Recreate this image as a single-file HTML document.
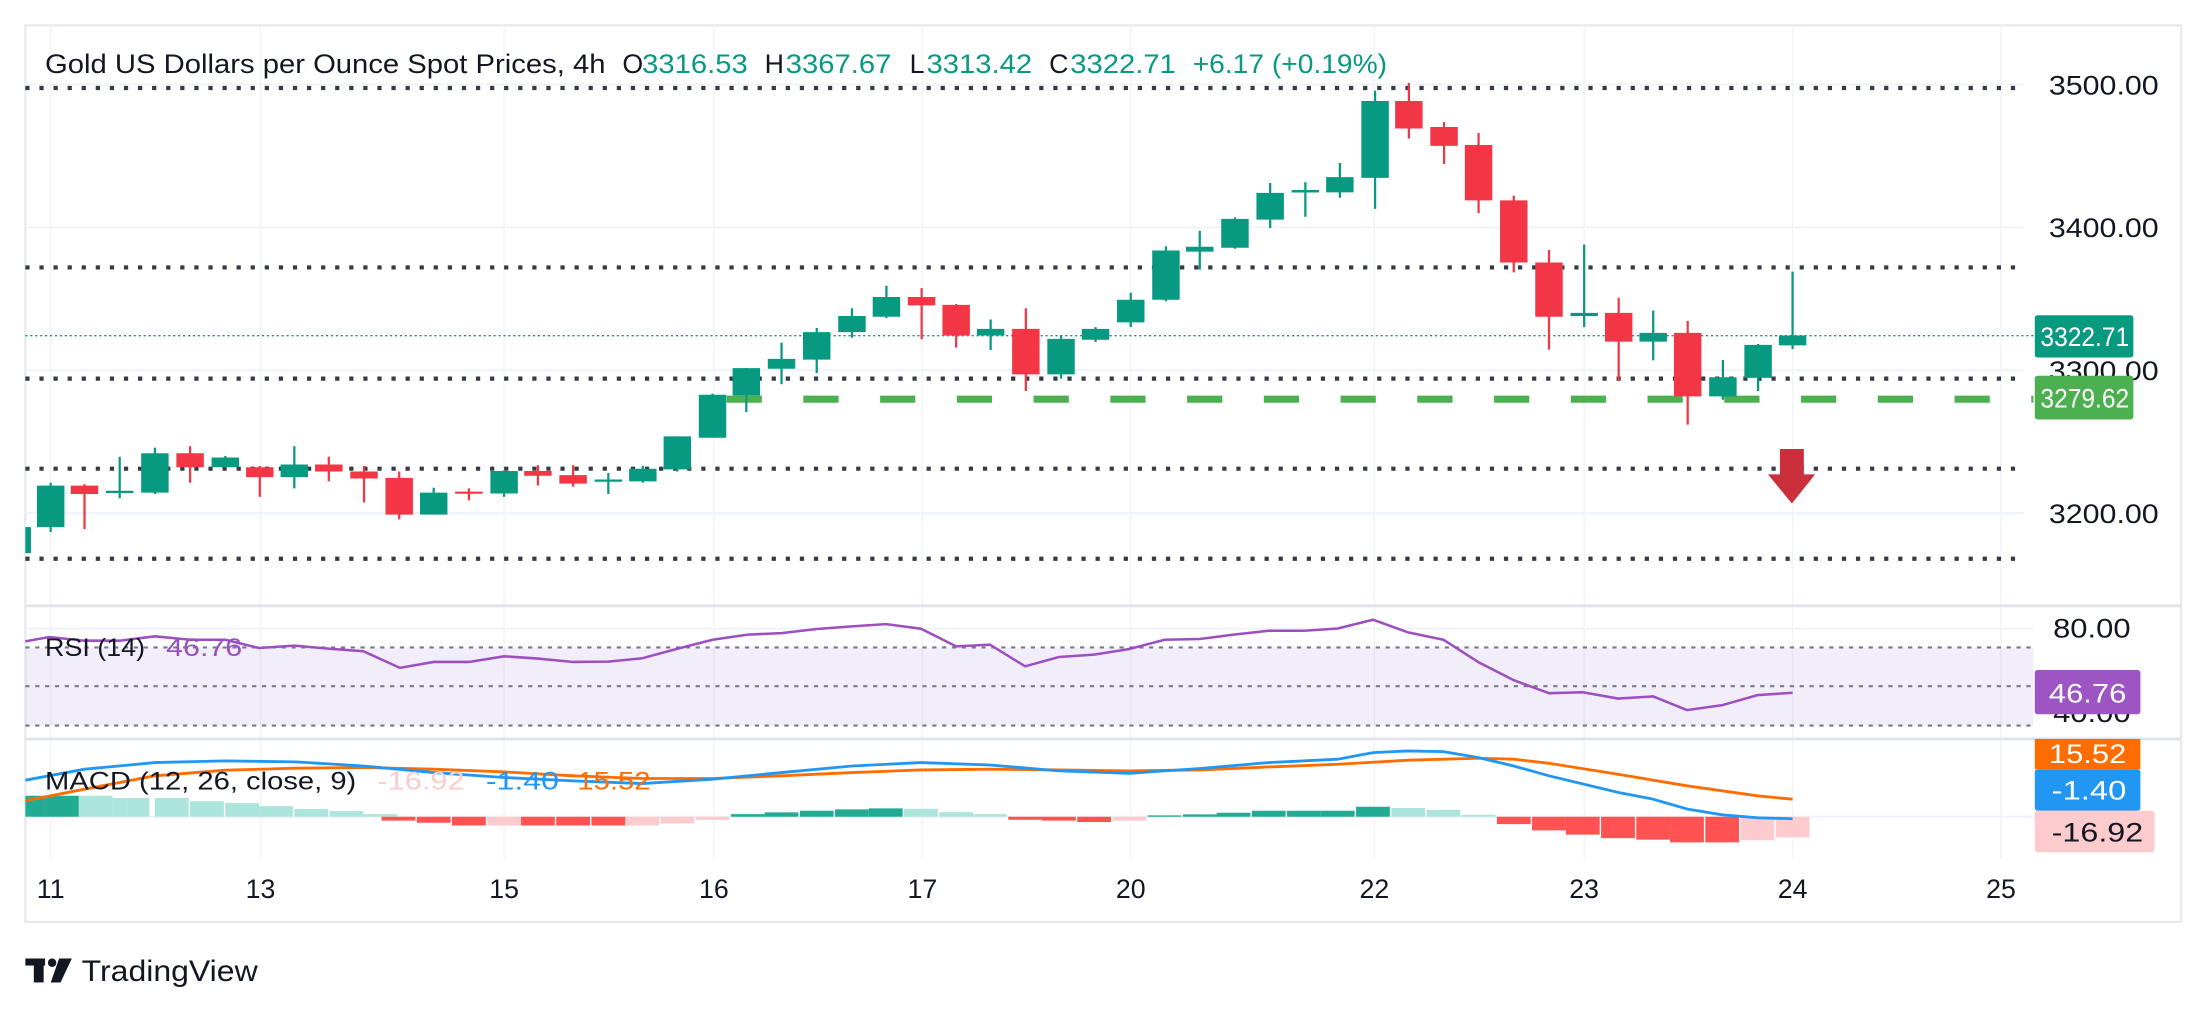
<!DOCTYPE html>
<html><head><meta charset="utf-8"><style>
html,body{margin:0;padding:0;background:#fff;}
svg{display:block;}
text{font-family:"Liberation Sans",sans-serif;}
</style></head><body>
<svg width="2208" height="1012" viewBox="0 0 1568 719" preserveAspectRatio="none" xmlns="http://www.w3.org/2000/svg">
<rect width="1568" height="719" fill="#fff"/>
<rect x="18" y="18" width="1531" height="637" fill="none" stroke="#e6e8f0" stroke-width="1.5"/>
<g stroke="#f0f3fa" stroke-width="1">
<line x1="36" y1="18" x2="36" y2="610"/><line x1="185" y1="18" x2="185" y2="610"/><line x1="358" y1="18" x2="358" y2="610"/><line x1="507" y1="18" x2="507" y2="610"/><line x1="655" y1="18" x2="655" y2="610"/><line x1="803" y1="18" x2="803" y2="610"/><line x1="976" y1="18" x2="976" y2="610"/><line x1="1125" y1="18" x2="1125" y2="610"/><line x1="1273" y1="18" x2="1273" y2="610"/><line x1="1421" y1="18" x2="1421" y2="610"/>
</g>
<g stroke="#f0f3fa" stroke-width="1.5">
<line x1="18" y1="60" x2="1437" y2="60"/><line x1="18" y1="161.5" x2="1437" y2="161.5"/><line x1="18" y1="263" x2="1437" y2="263"/><line x1="18" y1="364.5" x2="1437" y2="364.5"/>
<line x1="18" y1="446.7" x2="1444" y2="446.7"/><line x1="18" y1="580.3" x2="1444" y2="580.3"/>
</g>
<line x1="18" y1="430.4" x2="1549" y2="430.4" stroke="#e0e3eb" stroke-width="2"/>
<line x1="18" y1="525" x2="1549" y2="525" stroke="#e0e3eb" stroke-width="2"/>
<!-- title -->
<g font-size="19">
<text x="32" y="52" fill="#131722" textLength="398" lengthAdjust="spacingAndGlyphs">Gold US Dollars per Ounce Spot Prices, 4h</text>
<text x="442" y="52" fill="#131722">O</text><text x="456" y="52" fill="#089981" textLength="75" lengthAdjust="spacingAndGlyphs">3316.53</text>
<text x="543" y="52" fill="#131722">H</text><text x="558" y="52" fill="#089981" textLength="75" lengthAdjust="spacingAndGlyphs">3367.67</text>
<text x="646" y="52" fill="#131722">L</text><text x="658" y="52" fill="#089981" textLength="75" lengthAdjust="spacingAndGlyphs">3313.42</text>
<text x="745" y="52" fill="#131722">C</text><text x="760" y="52" fill="#089981" textLength="75" lengthAdjust="spacingAndGlyphs">3322.71</text>
<text x="847" y="52" fill="#089981" textLength="138" lengthAdjust="spacingAndGlyphs">+6.17 (+0.19%)</text>
</g>
<g stroke="#363a45" stroke-width="3" stroke-dasharray="3 7">
<line x1="18" y1="62.5" x2="1437" y2="62.5"/><line x1="18" y1="190" x2="1437" y2="190"/><line x1="18" y1="269" x2="1437" y2="269"/><line x1="18" y1="333" x2="1437" y2="333"/><line x1="18" y1="397" x2="1437" y2="397"/>
</g>
<line x1="18" y1="238.5" x2="1444" y2="238.5" stroke="#089981" stroke-width="1" stroke-dasharray="1.5 2"/>
<line x1="516" y1="283.6" x2="1444" y2="283.6" stroke="#4caf50" stroke-width="5" stroke-dasharray="25 29.5"/>
<g stroke-width="1.6">
<g stroke="#089981">
<line x1="20" y1="374.5" x2="20" y2="393"/>
<line x1="36" y1="343" x2="36" y2="378"/><line x1="85" y1="324.5" x2="85" y2="354"/><line x1="110" y1="318" x2="110" y2="351"/><line x1="160" y1="324" x2="160" y2="332"/><line x1="209" y1="317" x2="209" y2="347"/><line x1="308" y1="346.5" x2="308" y2="365.6"/><line x1="358" y1="334" x2="358" y2="353"/><line x1="432" y1="336" x2="432" y2="351"/><line x1="456.5" y1="331" x2="456.5" y2="343"/><line x1="481" y1="310" x2="481" y2="335"/><line x1="506" y1="279.7" x2="506" y2="311"/><line x1="530" y1="261.5" x2="530" y2="292.7"/><line x1="555" y1="243.5" x2="555" y2="273"/><line x1="580" y1="233" x2="580" y2="265"/><line x1="605" y1="219" x2="605" y2="240"/><line x1="629.5" y1="203" x2="629.5" y2="226"/><line x1="703.5" y1="227" x2="703.5" y2="248.7"/><line x1="753.5" y1="238" x2="753.5" y2="269"/><line x1="778" y1="232.4" x2="778" y2="243"/><line x1="803" y1="208" x2="803" y2="232.4"/><line x1="828" y1="175" x2="828" y2="214"/><line x1="852" y1="164" x2="852" y2="191.6"/><line x1="877" y1="154.4" x2="877" y2="176.7"/><line x1="902" y1="130" x2="902" y2="162"/><line x1="927" y1="129.4" x2="927" y2="154"/><line x1="951.5" y1="115.8" x2="951.5" y2="140.5"/><line x1="976.5" y1="64.4" x2="976.5" y2="148.4"/><line x1="1125" y1="173.7" x2="1125" y2="232.4"/><line x1="1174" y1="220.7" x2="1174" y2="256"/><line x1="1223.5" y1="255.8" x2="1223.5" y2="284"/><line x1="1248.5" y1="244.4" x2="1248.5" y2="277.8"/><line x1="1273" y1="193" x2="1273" y2="248"/>
</g>
<g stroke="#f23645">
<line x1="60" y1="344" x2="60" y2="376"/><line x1="135" y1="317" x2="135" y2="343"/><line x1="184.5" y1="331" x2="184.5" y2="353"/><line x1="233.5" y1="324.5" x2="233.5" y2="342"/><line x1="258.5" y1="331" x2="258.5" y2="357"/><line x1="283.5" y1="335" x2="283.5" y2="369"/><line x1="333" y1="347" x2="333" y2="355.5"/><line x1="382" y1="330.5" x2="382" y2="345"/><line x1="407" y1="330.5" x2="407" y2="345.7"/><line x1="654.5" y1="204.7" x2="654.5" y2="241"/><line x1="679" y1="216" x2="679" y2="247"/><line x1="728.5" y1="219" x2="728.5" y2="277.8"/><line x1="1000.5" y1="59" x2="1000.5" y2="98.4"/><line x1="1025.5" y1="86.7" x2="1025.5" y2="116.6"/><line x1="1050" y1="94.6" x2="1050" y2="151.4"/><line x1="1075" y1="139" x2="1075" y2="193.5"/><line x1="1100" y1="177.5" x2="1100" y2="248.4"/><line x1="1149.5" y1="211.5" x2="1149.5" y2="270.7"/><line x1="1198.5" y1="228" x2="1198.5" y2="301.7"/>
</g>
</g>
<g stroke-width="19.5">
<g stroke="#089981">
<line x1="20" y1="374.5" x2="20" y2="393" stroke-width="4"/>
<line x1="36" y1="345" x2="36" y2="374.5"/><line x1="85" y1="348.7" x2="85" y2="350.3"/><line x1="110" y1="322" x2="110" y2="350"/><line x1="160" y1="325" x2="160" y2="332"/><line x1="209" y1="330" x2="209" y2="339"/><line x1="308" y1="350" x2="308" y2="365.6"/><line x1="358" y1="334.6" x2="358" y2="350.6"/><line x1="432" y1="340.7" x2="432" y2="342.3"/><line x1="456.5" y1="333" x2="456.5" y2="342"/><line x1="481" y1="310" x2="481" y2="333.5"/><line x1="506" y1="280.5" x2="506" y2="311"/><line x1="530" y1="261.5" x2="530" y2="281"/><line x1="555" y1="255" x2="555" y2="262"/><line x1="580" y1="236" x2="580" y2="255.5"/><line x1="605" y1="224.5" x2="605" y2="236"/><line x1="629.5" y1="211" x2="629.5" y2="225"/><line x1="703.5" y1="233.7" x2="703.5" y2="238.4"/><line x1="753.5" y1="240.8" x2="753.5" y2="266"/><line x1="778" y1="233.7" x2="778" y2="241.4"/><line x1="803" y1="213" x2="803" y2="229"/><line x1="828" y1="178" x2="828" y2="213"/><line x1="852" y1="175.3" x2="852" y2="178.8"/><line x1="877" y1="155.5" x2="877" y2="176"/><line x1="902" y1="137" x2="902" y2="156"/><line x1="927" y1="135" x2="927" y2="136.8"/><line x1="951.5" y1="125.8" x2="951.5" y2="136.7"/><line x1="976.5" y1="71.8" x2="976.5" y2="126.4"/><line x1="1125" y1="222.3" x2="1125" y2="224.5"/><line x1="1174" y1="236.5" x2="1174" y2="242.7"/><line x1="1223.5" y1="268" x2="1223.5" y2="281.6"/><line x1="1248.5" y1="245" x2="1248.5" y2="268.5"/><line x1="1273" y1="238.4" x2="1273" y2="245.4"/>
</g>
<g stroke="#f23645">
<line x1="60" y1="345" x2="60" y2="351"/><line x1="135" y1="322" x2="135" y2="332"/><line x1="184.5" y1="332" x2="184.5" y2="339"/><line x1="233.5" y1="330" x2="233.5" y2="335"/><line x1="258.5" y1="335" x2="258.5" y2="340"/><line x1="283.5" y1="339.5" x2="283.5" y2="365.6"/><line x1="333" y1="349.3" x2="333" y2="350.8"/><line x1="382" y1="334.6" x2="382" y2="338"/><line x1="407" y1="337.6" x2="407" y2="343.6"/><line x1="654.5" y1="211" x2="654.5" y2="217"/><line x1="679" y1="216.6" x2="679" y2="238.4"/><line x1="728.5" y1="233.7" x2="728.5" y2="266"/><line x1="1000.5" y1="71.8" x2="1000.5" y2="91.3"/><line x1="1025.5" y1="90.2" x2="1025.5" y2="103.6"/><line x1="1050" y1="103" x2="1050" y2="142.4"/><line x1="1075" y1="142.4" x2="1075" y2="186.5"/><line x1="1100" y1="186.5" x2="1100" y2="225"/><line x1="1149.5" y1="222.3" x2="1149.5" y2="242.7"/><line x1="1198.5" y1="236.5" x2="1198.5" y2="281.6"/>
</g>
</g>
<polygon points="1264,319 1281,319 1281,337 1289,337 1272.5,357.7 1255.5,337 1264,337" fill="#cc2f3c"/>
<g font-size="19" fill="#131722">
<text x="1455" y="67" textLength="78" lengthAdjust="spacingAndGlyphs">3500.00</text><text x="1455" y="168.5" textLength="78" lengthAdjust="spacingAndGlyphs">3400.00</text><text x="1455" y="270" textLength="78" lengthAdjust="spacingAndGlyphs">3300.00</text><text x="1455" y="371.5" textLength="78" lengthAdjust="spacingAndGlyphs">3200.00</text>
</g>
<rect x="1445" y="224" width="70" height="30" rx="2" fill="#089981"/>
<text x="1449" y="246" font-size="19" fill="#fff" textLength="63" lengthAdjust="spacingAndGlyphs">3322.71</text>
<rect x="1445" y="267" width="70" height="31" rx="2" fill="#4caf50"/>
<text x="1449" y="289.5" font-size="19" fill="#fff" textLength="63" lengthAdjust="spacingAndGlyphs">3279.62</text>
<rect x="18" y="460" width="1426" height="55.5" fill="#7e57c2" fill-opacity="0.1"/>
<g stroke="#787b86" stroke-width="1.5" stroke-dasharray="3 4">
<line x1="18" y1="460" x2="1444" y2="460"/><line x1="18" y1="487.5" x2="1444" y2="487.5"/><line x1="18" y1="515.5" x2="1444" y2="515.5"/>
</g>
<polyline fill="none" stroke="#9c4fc0" stroke-width="1.8" points="18,455.7 35,452.6 60,455.2 85,455.2 110,452.1 135,454.5 160,454.5 184,460.4 209,458.7 234,460.9 258,462.7 284,474.5 308,470.3 333,470.3 358,466.3 382,467.9 407,470.3 432,470.1 456,467.7 481,460.9 506,454.5 531,450.9 555,449.8 580,446.9 605,445 629,443.4 654,446.7 679,459.2 703,458 728,473.4 752,466.8 777,465.1 802,461.1 827,454.5 852,454 876,450.9 901,448.1 926,448.1 950,446.5 975,440.3 1000,449.3 1025,454.5 1050,470.5 1075,483.3 1100,492.5 1124,491.8 1149,496.3 1174,494.8 1198,504.5 1223,501 1248,493.9 1273,492.2"/>
<text x="32" y="466" font-size="18" fill="#131722" textLength="71" lengthAdjust="spacingAndGlyphs">RSI (14)</text>
<text x="118" y="466" font-size="18" fill="#9c4fc0" textLength="54" lengthAdjust="spacingAndGlyphs">46.76</text>
<text x="1458" y="453" font-size="19" fill="#131722" textLength="55" lengthAdjust="spacingAndGlyphs">80.00</text>
<text x="1458" y="513" font-size="19" fill="#131722" textLength="55" lengthAdjust="spacingAndGlyphs">40.00</text>
<rect x="1445" y="476" width="75" height="31.5" rx="2" fill="#9c55c2"/>
<text x="1455" y="499" font-size="19" fill="#fff" textLength="55" lengthAdjust="spacingAndGlyphs">46.76</text>
<g stroke-width="24">
<line x1="25" y1="580.3" x2="25" y2="565.4" stroke="#22ab94" stroke-width="14"/>
<line x1="44" y1="580.3" x2="44" y2="565.4" stroke="#22ab94" stroke-width="24"/>
<g stroke="#ace5dc">
<line x1="68" y1="580.3" x2="68" y2="565.4"/><line x1="85" y1="580.3" x2="85" y2="567" stroke-width="10"/><line x1="98" y1="580.3" x2="98" y2="567" stroke-width="16"/><line x1="122" y1="580.3" x2="122" y2="567"/><line x1="147" y1="580.3" x2="147" y2="569.2"/><line x1="172" y1="580.3" x2="172" y2="570.6"/><line x1="196" y1="580.3" x2="196" y2="572.7"/><line x1="221" y1="580.3" x2="221" y2="574.8"/><line x1="246" y1="580.3" x2="246" y2="576.3"/><line x1="270" y1="580.3" x2="270" y2="578.4"/>
<line x1="654" y1="580.3" x2="654" y2="574.6"/><line x1="679" y1="580.3" x2="679" y2="577"/><line x1="703" y1="580.3" x2="703" y2="578.4"/>
<line x1="1000" y1="580.3" x2="1000" y2="574.1"/><line x1="1025" y1="580.3" x2="1025" y2="575.3"/><line x1="1050" y1="580.3" x2="1050" y2="578.9"/>
</g>
<g stroke="#ff5252">
<line x1="283" y1="580.3" x2="283" y2="583"/><line x1="308" y1="580.3" x2="308" y2="584.5"/><line x1="333" y1="580.3" x2="333" y2="586.5"/><line x1="382" y1="580.3" x2="382" y2="586.5"/><line x1="407" y1="580.3" x2="407" y2="586.5"/><line x1="432" y1="580.3" x2="432" y2="586.5"/>
<line x1="728" y1="580.3" x2="728" y2="582.4"/><line x1="752" y1="580.3" x2="752" y2="583"/><line x1="777" y1="580.3" x2="777" y2="584"/>
<line x1="1075" y1="580.3" x2="1075" y2="585.5"/><line x1="1100" y1="580.3" x2="1100" y2="590"/><line x1="1124" y1="580.3" x2="1124" y2="593"/><line x1="1149" y1="580.3" x2="1149" y2="595.5"/><line x1="1174" y1="580.3" x2="1174" y2="596.5"/><line x1="1198" y1="580.3" x2="1198" y2="598.5"/><line x1="1223" y1="580.3" x2="1223" y2="598.5"/>
</g>
<g stroke="#fccbcd">
<line x1="358" y1="580.3" x2="358" y2="586.5"/><line x1="456" y1="580.3" x2="456" y2="586.5"/><line x1="481" y1="580.3" x2="481" y2="585"/><line x1="506" y1="580.3" x2="506" y2="582.5"/><line x1="802" y1="580.3" x2="802" y2="583"/><line x1="1248" y1="580.3" x2="1248" y2="597"/><line x1="1273" y1="580.3" x2="1273" y2="595"/>
</g>
<g stroke="#22ab94">
<line x1="531" y1="580.3" x2="531" y2="578.4"/><line x1="555" y1="580.3" x2="555" y2="577.2"/><line x1="580" y1="580.3" x2="580" y2="576"/><line x1="605" y1="580.3" x2="605" y2="575"/><line x1="629" y1="580.3" x2="629" y2="574.3"/>
<line x1="827" y1="580.3" x2="827" y2="579.3"/><line x1="852" y1="580.3" x2="852" y2="578.6"/><line x1="876" y1="580.3" x2="876" y2="577.4"/><line x1="901" y1="580.3" x2="901" y2="576"/><line x1="926" y1="580.3" x2="926" y2="576"/><line x1="950" y1="580.3" x2="950" y2="576"/><line x1="975" y1="580.3" x2="975" y2="573.2"/>
</g>
</g>
<polyline fill="none" stroke="#ff6d00" stroke-width="2" points="18,568.9 60,560.7 110,551.2 160,547.2 210,545.8 258,545.3 308,546.5 358,548.4 407,551.2 456,553.1 506,553.1 555,551.2 605,548.9 654,547 703,546.5 752,547 802,547.7 852,547 901,544.9 950,543 1000,540.1 1050,538.7 1075,539.4 1100,542.3 1149,550.1 1198,558.3 1248,565.4 1273,567.8"/>
<polyline fill="none" stroke="#2196f3" stroke-width="2" points="18,554.3 60,546.5 110,541.8 160,540.6 210,541.3 258,544.2 308,548.9 358,552.4 407,554.8 456,556.7 506,553.6 555,548.9 605,544.2 654,541.8 703,543.5 752,547.7 802,549.4 852,546 901,541.8 950,539.4 975,534.7 1000,533.5 1025,534 1050,538.3 1075,544.2 1100,551.2 1149,563 1174,567.8 1198,574.8 1223,578.9 1248,581 1273,581.7"/>
<g font-size="18">
<text x="32" y="561" fill="#131722" textLength="221" lengthAdjust="spacingAndGlyphs">MACD (12, 26, close, 9)</text>
<text x="268" y="561" fill="#fccbcd" textLength="62" lengthAdjust="spacingAndGlyphs">-16.92</text>
<text x="345" y="561" fill="#2196f3" textLength="52" lengthAdjust="spacingAndGlyphs">-1.40</text>
<text x="410" y="561" fill="#ff6d00" textLength="52" lengthAdjust="spacingAndGlyphs">15.52</text>
</g>
<rect x="1445" y="525" width="75" height="21.5" fill="#ff6d00"/>
<text x="1455" y="542" font-size="19" fill="#fff" textLength="55" lengthAdjust="spacingAndGlyphs">15.52</text>
<rect x="1445" y="546.5" width="75" height="29.5" rx="2" fill="#2196f3"/>
<text x="1457" y="568" font-size="19" fill="#fff" textLength="53" lengthAdjust="spacingAndGlyphs">-1.40</text>
<rect x="1445" y="576" width="85" height="29.5" rx="2" fill="#fccbcd"/>
<text x="1457" y="598" font-size="19" fill="#131722" textLength="65" lengthAdjust="spacingAndGlyphs">-16.92</text>
<g font-size="19" fill="#131722" text-anchor="middle">
<text x="36" y="638">11</text><text x="185" y="638">13</text><text x="358" y="638">15</text><text x="507" y="638">16</text><text x="655" y="638">17</text><text x="803" y="638">20</text><text x="976" y="638">22</text><text x="1125" y="638">23</text><text x="1273" y="638">24</text><text x="1421" y="638">25</text>
</g>
<g fill="#131722">
<rect x="18" y="681" width="14" height="5"/><rect x="24" y="681" width="7" height="17"/>
<circle cx="37" cy="684" r="3"/><polygon points="42,681 51,681 43,698 36,698"/>
</g>
<text x="58" y="697" font-size="21" fill="#131722" textLength="125" lengthAdjust="spacingAndGlyphs">TradingView</text>
</svg>
</body></html>
